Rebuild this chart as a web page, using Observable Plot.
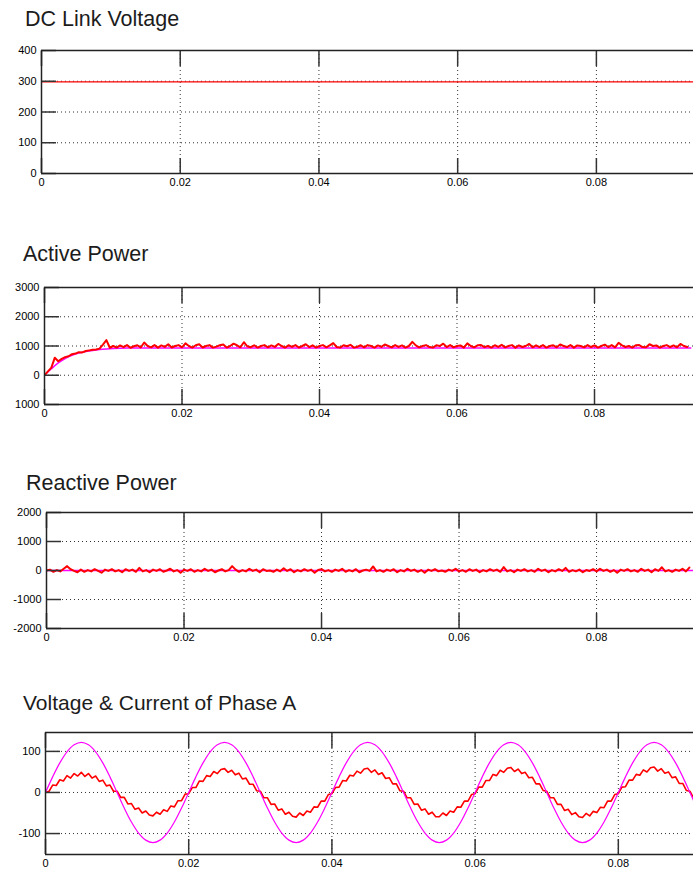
<!DOCTYPE html>
<html><head><meta charset="utf-8">
<script src="https://cdn.jsdelivr.net/npm/d3@7"></script>
<script src="https://cdn.jsdelivr.net/npm/@observablehq/plot@0.6"></script>
<style>
body{margin:0;background:#fff;overflow:hidden}
#wrap{position:relative;width:693px;height:870px;overflow:hidden;font-family:"Liberation Sans",Arial,sans-serif;background:#fff}
.title{position:absolute;font-size:21.5px;line-height:21.5px;color:#1c1c1c;white-space:nowrap}
.panel{position:absolute;left:0}
</style></head><body><div id="wrap"></div>
<script>
// ---- shared ----
const sampleStep = 0.0005;   // s between samples of the noisy traces
const voltageStep = 0.001;   // s between samples of the phase voltage
const xTickValues = [0, 0.02, 0.04, 0.06, 0.08];
const xTickLabels = ["0", "0.02", "0.04", "0.06", "0.08"];
const titles = ["DC Link Voltage", "Active Power", "Reactive Power", "Voltage & Current of Phase A"];

// ---- DC link voltage ----
const dcTicks = [0, 100, 200, 300, 400];
const dcTickLabels = ["0", "100", "200", "300", "400"];
const dcTime = [0, 0.094];
const dcVoltage = [298, 298];

// ---- Active power ----
const activeTicks = [-1000, 0, 1000, 2000, 3000];
const activeTickLabels = ["1000", "0", "1000", "2000", "3000"];
const activeRefTime = [0, 0.001, 0.002, 0.003, 0.004, 0.005, 0.006, 0.007, 0.008, 0.009, 0.01, 0.012, 0.094];
const activeRef = [0, 220, 420, 570, 680, 760, 810, 850, 880, 900, 915, 930, 935];
const activePower = [
0,130,260,600,480,560,620,650,720,740,790,780,830,850,870,880,910,1050,1200,940,
1000,945,1020,960,1030,940,990,1025,950,1120,1000,955,1030,945,1020,970,1060,950,1000,1030,
955,1090,1000,945,1025,1060,950,1000,1030,945,980,1025,1050,945,1000,1080,1025,955,1130,990,
960,1025,945,1000,1030,955,1020,970,1070,1000,945,1025,970,1030,950,1000,1060,965,1025,945,
1000,1030,955,1020,1100,965,945,1025,990,1040,945,975,1025,955,1030,1000,945,1020,970,1050,
1000,955,1030,970,1020,945,1000,1140,1020,955,1000,1030,965,945,1025,1000,1080,965,1030,955,
1000,1020,945,1090,1000,955,1025,1030,960,1000,945,1025,970,1040,955,1000,1030,945,1020,965,
1000,1070,955,1025,965,1030,945,1000,1025,955,1050,1000,965,1030,945,1020,1000,955,1030,965,
1020,945,1000,1045,965,1030,955,1110,1020,965,1000,945,1025,1030,965,955,1060,1000,1020,945,
1000,1030,965,1020,955,1070,1000,965];

// ---- Reactive power ----
const reactiveTicks = [-2000, -1000, 0, 1000, 2000];
const reactiveTickLabels = ["-2000", "-1000", "0", "1000", "2000"];
const reactiveRefTime = [0, 0.094];
const reactiveRef = [0, 0];
const reactivePower = [
0,30,-45,15,-30,60,150,45,-15,-60,30,-45,15,-30,45,-15,-75,30,-15,45,
-30,15,-60,45,-15,30,-45,90,-30,15,-60,30,-15,45,-45,0,60,-30,15,-75,
30,-15,45,-45,15,-30,60,-15,30,-60,0,45,-30,15,150,30,-45,15,-30,60,
-15,30,-60,45,-15,0,-45,30,-30,75,-15,45,-60,15,-30,45,-15,30,-75,15,
45,-30,15,-45,30,-15,60,-45,15,-30,45,-60,0,30,-15,140,-30,15,-45,30,
-15,45,-60,15,-30,60,-15,30,-45,15,-75,30,-15,45,-30,0,-45,30,-15,60,
-30,15,-45,45,-15,30,-60,15,-30,45,-15,30,-45,120,-30,15,-60,30,-15,45,
-30,15,-45,60,-15,30,-60,15,-30,45,-15,90,-45,15,-30,30,-60,15,-15,45,
-30,60,-15,30,-45,15,-75,30,-15,45,-30,15,-45,60,-15,30,-60,45,-15,110,
-30,15,-45,30,-15,60,-30,100];

// ---- Phase A ----
const phaseTicks = [-100, 0, 100];
const phaseTickLabels = ["-100", "0", "100"];
const phaseVoltage = [
0,38,72,99,116,122,116,99,72,38,0,-38,-72,-99,-116,-122,-116,-99,-72,-38,
0,38,72,99,116,122,116,99,72,38,0,-38,-72,-99,-116,-122,-116,-99,-72,-38,
0,38,72,99,116,122,116,99,72,38,0,-38,-72,-99,-116,-122,-116,-99,-72,-38,
0,38,72,99,116,122,116,99,72,38,0,-38,-72,-99,-116,-122,-116,-99,-72,-38,
0,38,72,99,116,122,116,99,72,38,0,-38,-72,-99,-116];
const phaseCurrent = [
0,3,18,17,31,28,41,35,46,40,49,39,46,35,40,27,30,16,18,3,
3,-12,-12,-28,-27,-41,-38,-50,-45,-55,-57,-48,-53,-42,-46,-33,-35,-20,-20,-4,
-3,12,12,28,27,41,39,51,46,56,58,49,54,43,47,33,35,20,20,4,
3,-13,-13,-29,-28,-43,-40,-53,-48,-58,-60,-50,-56,-45,-48,-35,-36,-21,-21,-5,
-3,12,13,29,28,42,40,52,47,57,59,49,55,44,48,34,36,21,21,4,
3,-13,-13,-29,-28,-43,-40,-53,-48,-59,-59,-50,-56,-45,-48,-35,-36,-21,-21,-5,
-3,13,13,29,29,44,41,54,49,59,61,51,57,46,49,36,37,21,21,5,
3,-13,-13,-29,-29,-44,-41,-54,-49,-59,-61,-51,-57,-46,-49,-36,-37,-21,-21,-5,
-3,13,14,30,30,44,42,55,50,60,62,52,58,47,50,36,38,22,22,5,
3,-13,-13,-31,-28,-45,-40,-54];

const RED = "#ff0000", MAGENTA = "#ff00ff";
const wrap = document.getElementById("wrap");

function labelFmt(values, labels) { return d => { const i = values.indexOf(d); return i < 0 ? "" : labels[i]; }; }

function addTitle(text, left, top, size) {
  const t = document.createElement("div");
  t.className = "title"; t.textContent = text;
  t.style.left = left + "px"; t.style.top = top + "px";
  if (size) { t.style.fontSize = size + "px"; t.style.lineHeight = size + "px"; }
  wrap.appendChild(t);
}

function addPanel({left, top, bottom, xMax, yDomain, yTicks, yLabels, marks}) {
  const mt = 1, mb = 22;
  const svg = Plot.plot({
    width: 693, height: bottom - top + mt + mb,
    marginLeft: left, marginRight: 0, marginTop: mt, marginBottom: mb,
    style: {fontFamily: '"Liberation Sans", Arial, sans-serif', fontSize: "11px", color: "#000", background: "transparent", overflow: "visible"},
    x: {domain: [0, xMax]},
    y: {domain: yDomain},
    marks: [
      Plot.ruleY(yTicks, {stroke: "#333", strokeWidth: 1, strokeDasharray: "1,3"}),
      Plot.ruleX(xTickValues, {stroke: "#333", strokeWidth: 1, strokeDasharray: "1,3"}),
      ...marks,
      Plot.axisY({ticks: yTicks, tickSize: -15, tickFormat: () => "", stroke: "#333", strokeWidth: 1.5, label: null}),
      Plot.axisY({ticks: yTicks, tickSize: 0, tickPadding: 5, tickFormat: labelFmt(yTicks, yLabels), fontSize: 11, label: null}),
      Plot.axisX({ticks: xTickValues, tickSize: -15, tickFormat: () => "", stroke: "#333", strokeWidth: 1.5, label: null}),
      Plot.axisX({anchor: "top", ticks: xTickValues, tickSize: -15, tickFormat: () => "", stroke: "#333", strokeWidth: 1.5, label: null}),
      Plot.axisX({ticks: xTickValues, tickSize: 0, tickPadding: 5, tickFormat: labelFmt(xTickValues, xTickLabels), fontSize: 11, label: null}),
      Plot.ruleX([0], {stroke: "#222", strokeWidth: 1.5}),
      Plot.ruleY(yDomain, {stroke: "#222", strokeWidth: 1.5})
    ]
  });
  svg.classList.add("panel");
  svg.style.top = (top - mt) + "px";
  wrap.appendChild(svg);
}

const tIdx = step => (d, i) => i * step;

// Panel 1
addTitle(titles[0], 25, 9);
addPanel({left: 41, top: 50, bottom: 173, xMax: 0.094, yDomain: [0, 400], yTicks: dcTicks, yLabels: dcTickLabels,
  marks: [Plot.line(dcVoltage, {x: (d, i) => dcTime[i], y: d => d, stroke: RED, strokeWidth: 1.2, clip: true})]});

// Panel 2
addTitle(titles[1], 23, 244);
addPanel({left: 44, top: 287, bottom: 404, xMax: 0.0944, yDomain: [-1000, 3000], yTicks: activeTicks, yLabels: activeTickLabels,
  marks: [
    Plot.line(activeRef, {x: (d, i) => activeRefTime[i], y: d => d, stroke: MAGENTA, strokeWidth: 1.5, curve: "monotone-x", clip: true}),
    Plot.line(activePower, {x: tIdx(sampleStep), y: d => d, stroke: RED, strokeWidth: 2, clip: true})
  ]});

// Panel 3
addTitle(titles[2], 26, 472.5);
addPanel({left: 46, top: 512, bottom: 628, xMax: 0.0941, yDomain: [-2000, 2000], yTicks: reactiveTicks, yLabels: reactiveTickLabels,
  marks: [
    Plot.line(reactiveRef, {x: (d, i) => reactiveRefTime[i], y: d => d, stroke: MAGENTA, strokeWidth: 1.5, clip: true}),
    Plot.line(reactivePower, {x: tIdx(sampleStep), y: d => d, stroke: RED, strokeWidth: 2, clip: true})
  ]});

// Panel 4
addTitle(titles[3], 23, 692, 21);
addPanel({left: 45, top: 732, bottom: 854, xMax: 0.0905, yDomain: [-151, 146], yTicks: phaseTicks, yLabels: phaseTickLabels,
  marks: [
    Plot.line(phaseCurrent, {x: tIdx(sampleStep), y: d => d, stroke: RED, strokeWidth: 1.6, clip: true}),
    Plot.line(phaseVoltage, {x: tIdx(voltageStep), y: d => d, stroke: MAGENTA, strokeWidth: 1.2, curve: "catmull-rom", clip: true})
  ]});
</script></body></html>
